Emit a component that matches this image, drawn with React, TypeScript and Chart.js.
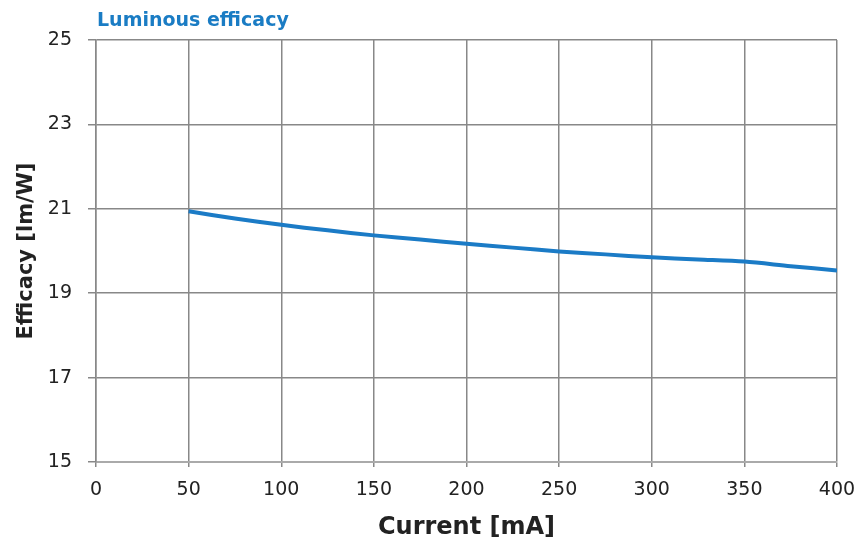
import React, { useEffect, useRef } from "react";
import { Chart, registerables } from "chart.js";

Chart.register(...registerables);

const currents = [50, 75, 100, 125, 150, 175, 200, 225, 250, 275, 300, 325, 350, 375, 400];
const efficacy = [20.94, 20.77, 20.62, 20.49, 20.37, 20.27, 20.17, 20.08, 19.99, 19.92, 19.85, 19.8, 19.75, 19.64, 19.54];
const chartTitle = "Luminous efficacy";
const xTitle = "Current [mA]";
const yTitle = "Efficacy [lm/W]";

const FONT = "'DejaVu Sans', sans-serif";

const titlePlugin = {
  id: "leftTitle",
  afterDraw(chart: any) {
    const ctx = chart.ctx;
    ctx.save();
    ctx.font = `bold 19px ${FONT}`;
    ctx.fillStyle = "#1a7cc4";
    ctx.textAlign = "left";
    ctx.textBaseline = "middle";
    ctx.fillText(chartTitle, chart.chartArea.left + 1, 21);
    ctx.restore();
  },
};

export default function App() {
  const ref = useRef<HTMLCanvasElement>(null);
  useEffect(() => {
    if (!ref.current) return;
    const chart = new Chart(ref.current, {
      type: "line",
      data: {
        datasets: [
          {
            data: currents.map((c, i) => ({ x: c, y: efficacy[i] })),
            borderColor: "#1b7bc6",
            borderWidth: 4,
            pointRadius: 0,
            tension: 0.3,
            fill: false,
          },
        ],
      },
      options: {
        animation: false,
        responsive: false,
        layout: { padding: { left: 0, top: 40, right: 27, bottom: 0 } },
        plugins: { legend: { display: false }, tooltip: { enabled: false } },
        scales: {
          x: {
            type: "linear",
            min: 0,
            max: 400,
            ticks: { stepSize: 50, color: "#222", font: { family: FONT, size: 19 }, padding: 12 },
            grid: { color: "#888", lineWidth: 1.5, drawTicks: true, tickLength: 5 },
            border: { color: "#aaa", width: 2 },
            title: { display: true, text: xTitle, color: "#222", font: { family: FONT, size: 24, weight: "bold" }, padding: { top: 4, bottom: 2 } },
            afterFit(scale: any) {
              scale.height = 82;
              scale.paddingLeft = 0;
              scale.paddingRight = 0;
            },
          },
          y: {
            min: 15,
            max: 25,
            ticks: { stepSize: 2, color: "#222", font: { family: FONT, size: 19 }, padding: 16 },
            grid: { color: "#888", lineWidth: 1.5, drawTicks: true, tickLength: 8 },
            border: { color: "#888", width: 1.5 },
            title: { display: true, text: yTitle, color: "#222", font: { family: FONT, size: 21, weight: "bold" }, padding: { top: 14, bottom: 0 } },
            afterFit(scale: any) {
              scale.width = 96;
              scale.paddingTop = 0;
              scale.paddingBottom = 0;
            },
          },
        },
      },
      plugins: [titlePlugin],
    });
    return () => chart.destroy();
  }, []);
  return (
    <div style={{ position: "fixed", left: 0, top: 0, width: 864, height: 544, background: "#fff" }}>
      <canvas ref={ref} width={864} height={544} />
    </div>
  );
}
